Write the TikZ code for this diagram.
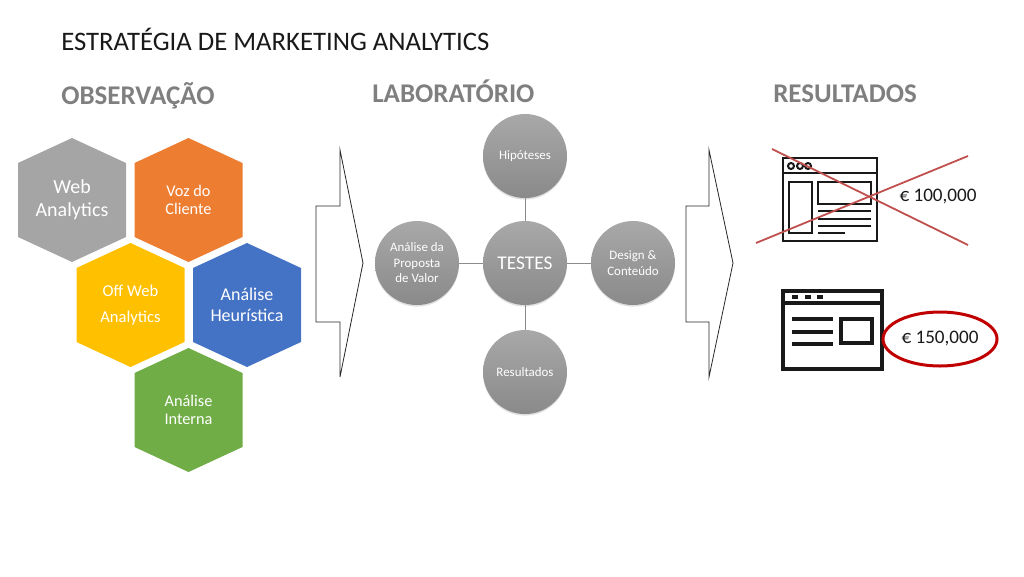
\documentclass[tikz,border=0pt]{standalone}
\usepackage{fontspec}
\setmainfont{Carlito}
\usetikzlibrary{shadows,shapes.geometric}

\definecolor{hexgray}{HTML}{A5A5A5}
\definecolor{hexorange}{HTML}{ED7D31}
\definecolor{hexyellow}{HTML}{FFC000}
\definecolor{hexblue}{HTML}{4472C4}
\definecolor{hexgreen}{HTML}{70AD47}
\definecolor{headgray}{HTML}{7F7F7F}
\definecolor{crossred}{HTML}{C0504D}
\definecolor{ringred}{HTML}{C00000}

\newcommand{\hexcell}[6]{
  \fill[#4] (#2,#3) ++(0,-62) -- ++(54,25) -- ++(0,74) -- ++(-54,25) -- ++(-54,-25) -- ++(0,-74) -- cycle;
  \node[hextext, #5] (#1) at (#2,#3) {#6};
}

\tikzset{
  hextext/.style={text=white, align=center},
  hexbig/.style={font=\fontsize{14.2}{16.4}\selectfont},
  hexmid/.style={font=\fontsize{12.8}{15}\selectfont},
  hexsmall/.style={font=\fontsize{11.6}{13}\selectfont},
  hexwide/.style={font=\fontsize{11.8}{18}\selectfont},
  heading/.style={font=\fontsize{19.2}{22}\selectfont\bfseries, text=headgray, anchor=base west, inner sep=0pt},
  ball/.style={circle, minimum size=21mm, inner sep=0pt, align=center, text=white,
    top color=black!34, bottom color=black!46,
    drop shadow={shadow xshift=0pt, shadow yshift=-.4mm, opacity=.25, fill=black!50}},
  smalltext/.style={font=\fontsize{9.2}{11}\selectfont},
  spoke/.style={draw=black!45, line width=.25mm},
  bigarrow/.style={draw=black!85, line width=.2mm},
  webline/.style={draw=black!90, line width=.65mm},
  crossline/.style={draw=crossred, line width=.45mm},
  price/.style={font=\fontsize{13.6}{16}\selectfont, text=black!90}
}

\begin{document}
\begin{tikzpicture}[x=.25mm,y=-.25mm]
  \useasboundingbox (0,0) rectangle (1024,576);

  % Titles
  \node[anchor=base west, inner sep=0pt, font=\fontsize{19}{22}\selectfont, text=black!90] (title) at (61,50) {ESTRATÉGIA DE MARKETING ANALYTICS};
  \node[heading] (obs) at (61,104) {OBSERVAÇÃO};
  \node[heading] (lab) at (372,102) {LABORATÓRIO};
  \node[heading] (res) at (773,102) {RESULTADOS};

  % Hexagons
  \hexcell{web}{72}{200}{hexgray}{hexbig}{Web\\Analytics}
  \hexcell{voz}{188.5}{200}{hexorange}{hexsmall}{Voz do\\Cliente}
  \hexcell{offweb}{130.5}{305}{hexyellow}{hexwide}{Off Web\\Analytics}
  \hexcell{heuristica}{247}{305}{hexblue}{hexmid}{Análise\\Heurística}
  \hexcell{interna}{188.5}{410}{hexgreen}{hexsmall}{Análise\\Interna}

  % Arrows
  \draw[bigarrow] (316,206) -- (340,206) -- (340,150) -- (363,263) -- (340,377) -- (340,322) -- (316,322) -- cycle;
  \draw[bigarrow] (686,206) -- (709,206) -- (709,150) -- (733,263) -- (709,377) -- (709,322) -- (686,322) -- cycle;

  % Centre and spokes
  \node[ball, font=\fontsize{13.8}{16}\selectfont] (testes) at (525,263) {TESTES};
  \node[ball, smalltext] (hip) at (525,156) {Hipóteses};
  \node[ball, smalltext] (valor) at (417,263) {Análise da\\Proposta\\de Valor};
  \node[ball, smalltext] (design) at (633,263) {Design \&\\Conteúdo};
  \node[ball, smalltext] (result) at (525,372) {Resultados};

  \draw[spoke] (testes) -- (hip);
  \draw[spoke] (testes) -- (valor);
  \draw[spoke] (testes) -- (design);
  \draw[spoke] (testes) -- (result);

  % Old page
  \draw[webline] (783,158) rectangle (877,241);
  \draw[webline] (783,173) -- (877,173);
  \foreach \x in {791,800,808}
    \draw[webline, line width=.5mm] (\x,166) circle (3);
  \draw[webline] (789,182) rectangle (812,233);
  \draw[webline] (818,182) rectangle (871,204);
  \draw[webline] (818,211) -- (871,211);
  \draw[webline] (818,219) -- (871,219);
  \draw[webline] (818,226) -- (871,226);
  \draw[webline] (818,233) -- (845,233);
  \node[price] (oldprice) at (938,197) {€ 100,000};

  \coordinate (c1) at (772,149);
  \coordinate (c2) at (968,245);
  \coordinate (c3) at (756,243);
  \coordinate (c4) at (968,156);
  \draw[crossline] (c1) -- (c2);
  \draw[crossline] (c3) -- (c4);

  % New page
  \draw[webline, line width=.95mm] (783,291) rectangle (882,369);
  \draw[webline, line width=.8mm] (783,303) -- (882,303);
  \foreach \x in {792,805,817}
    \draw[webline, line width=.8mm] (\x,297) -- ++(6,0);
  \draw[webline, line width=.8mm] (792,319) -- (833,319);
  \draw[webline, line width=.8mm] (792,332) -- (833,332);
  \draw[webline, line width=.8mm] (792,344) -- (833,344);
  \draw[webline, line width=.9mm] (841,319) rectangle (872,343);
  \node[price, draw=ringred, line width=.75mm, ellipse, minimum width=28.5mm, minimum height=13.5mm, inner sep=0pt] (newprice) at (940,339) {€ 150,000};
\end{tikzpicture}
\end{document}
